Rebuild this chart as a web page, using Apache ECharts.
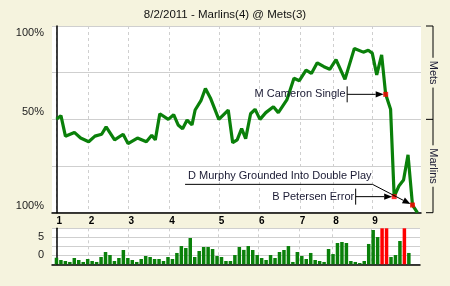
<!DOCTYPE html>
<html><head><meta charset="utf-8">
<script src="https://cdn.jsdelivr.net/npm/echarts@6/dist/echarts.min.js"></script>
<style>html,body{margin:0;padding:0;background:#f5f3de;} #c{width:450px;height:286px;}</style>
</head><body><div id="c"></div>
<script>
// ---- data ----
const titleText = '8/2/2011 - Marlins(4) @ Mets(3)';
const inningLabels = ['1','2','3','4','5','6','7','8','9'];
const inningStarts = [0, 7.2, 16.1, 25.2, 36.3, 45.3, 54.4, 61.9, 70.6];
const playPos = [0,1,2,4,5.4,7.2,8.6,10.1,11.1,13,14.9,16,18.1,20.1,21.3,22.1,23.1,25,26.2,27.2,28.2,29.2,30.3,31,32.3,33.3,34.5,36.3,38.4,39.4,40.4,41.4,42.3,43.4,44.4,45.5,46.8,48.5,49.6,51.5,53.1,54.3,55.8,57,58.3,59.8,61.1,62.5,64.5,66.6,68.6,69.7,70.6,71.6,72.7,73.6,74.7,75.5,76.6,77.6,78.6,79.6,80.7];
const metsWinPct = [50,52,41,43,40,38,41,42,46,39,
  42,37,40,38,41.5,39,53,50,52.5,47,
  45,49.6,47,55,60,66.5,61,50,55,37.5,
  39,45,39.7,53,55.4,50,53.6,56.8,53.6,60.4,
  72,70.7,76.4,74.6,80.3,78.2,76.8,82,71.4,88,
  86,87,85.5,73.8,84.5,63.4,55.4,8.6,14.5,17.5,
  31,4.1,0];
const leverage = [0.73,0.48,0.37,0.26,0.70,0.48,0.26,0.59,0.37,0.26,
  0.81,1.37,1.03,0.37,0.70,1.59,0.70,0.48,0.26,0.59,
  0.92,0.81,0.59,0.59,0.37,0.81,0.59,1.26,2.03,1.81,
  2.92,0.81,1.48,1.92,1.92,1.70,0.92,0.81,0.37,0.37,
  1.03,1.92,1.60,2.03,1.59,1.03,0.70,0.48,1.03,0.70,
  1.37,1.59,2.03,0.26,1.37,0.92,0.59,1.26,0.48,0.37,
  0.26,1.70,1.14,2.37,2.48,2.37,0.37,0.26,0.14,0.37,
  2.26,3.81,3.03,5,5,0.81,1.03,2.59,5,1.26];
const keyBarIdx = [73,74,78];
const keyPointIdx = [55,57,61];
const keyLabels = ['M Cameron Single','B Petersen Error','D Murphy Grounded Into Double Play'];
const yTickValues = [100,50,0];
const yTickLabels = ['100%','50%','100%'];
const barTickValues = [1,3];
const barTickLabels = ['0','5'];
const teamLabels = ['Mets','Marlins'];

// ---- chart ----
const FONT = '"Liberation Sans", Arial, sans-serif';
const BG = '#f5f3de';
const GREEN = '#0a800a';
const chart = echarts.init(document.getElementById('c'), null, {renderer:'canvas', width:450, height:286});
const lineData = playPos.map((p,i)=>[p, metsWinPct[i]]);
const barData = leverage.map((v,i)=>({value:[i,v], itemStyle:{color: keyBarIdx.includes(i)?'#ff0000':GREEN}}));
const xCommon = {type:'value', min:-1, max:81.5,
  axisLine:{lineStyle:{color:'#000', width:1.5}},
  axisTick:{show:false, customValues:inningStarts},
  splitLine:{show:true, lineStyle:{color:'#cfcfcf', type:[3,3]}}};
const option = {
  backgroundColor: BG,
  animation:false,
  title:{text:titleText, left:'center', top:4, textStyle:{fontFamily:FONT, fontSize:11.5, fontWeight:'normal', color:'#111'}},
  grid:[
    {left:52, right:29, top:26, bottom:73.3, show:true, backgroundColor:'#fff', borderWidth:0},
    {left:52, right:30, top:228.3, bottom:21.7, show:true, backgroundColor:'#fff', borderWidth:0}
  ],
  xAxis:[
    Object.assign({gridIndex:0}, xCommon, {axisLabel:{customValues:inningStarts, formatter:(v)=>{const i=inningStarts.indexOf(v);return i>=0?inningLabels[i]:'';}, align:'left', margin:4, fontFamily:FONT, fontSize:10, fontWeight:'bold', color:'#000'}}),
    Object.assign({gridIndex:1}, xCommon, {axisLabel:{show:false}})
  ],
  yAxis:[
    {gridIndex:0, type:'value', min:0, max:100, interval:25,
     axisLine:{show:true, lineStyle:{color:'#000', width:1.5}}, axisTick:{show:false},
     splitLine:{lineStyle:{color:'#cfcfcf'}},
     axisLabel:{margin:8, fontFamily:FONT, fontSize:11, color:'#222',
       formatter:(v)=>{const i=yTickValues.indexOf(v); if(i<0) return ''; const s=v===100?'t':'b'; return '{'+s+'|'+yTickLabels[i]+'}';},
       rich:{t:{padding:[14,0,0,0], fontFamily:FONT, fontSize:11, color:'#222'}, b:{padding:[0,0,14,0], fontFamily:FONT, fontSize:11, color:'#222'}}}},
    {gridIndex:1, type:'value', min:0, max:4, interval:1,
     axisLine:{show:true, lineStyle:{color:'#000', width:1.5}}, axisTick:{show:false},
     splitLine:{lineStyle:{color:'#cfcfcf'}},
     axisLabel:{margin:8, fontFamily:FONT, fontSize:11, color:'#222', showMinLabel:false, showMaxLabel:false,
       formatter:(v)=>{const i=barTickValues.indexOf(v); return i>=0?barTickLabels[i]:'';}}}
  ],
  series:[
    {type:'line', xAxisIndex:0, yAxisIndex:0, data:lineData, showSymbol:false, symbol:'none',
     lineStyle:{color:GREEN, width:3.2}, z:3},
    {type:'scatter', xAxisIndex:0, yAxisIndex:0, data:keyPointIdx.map(i=>lineData[i]), symbol:'rect', symbolSize:5,
     itemStyle:{color:'#ff0000'}, z:5},
    {type:'bar', xAxisIndex:1, yAxisIndex:1, data:barData, barWidth:3.5, clip:true}
  ]
};
chart.setOption(option);

// ---- annotations (anchored to data points via the axes) ----
const g = [];
function arrow(x1,y1,x2,y2){
  const a=Math.atan2(y2-y1,x2-x1), L=8, W=3.2;
  const bx=x2-L*Math.cos(a), by=y2-L*Math.sin(a);
  g.push({type:'line', shape:{x1:x1,y1:y1,x2:bx,y2:by}, style:{stroke:'#000', lineWidth:1}, z:10});
  g.push({type:'polygon', shape:{points:[[x2,y2],[bx+W*Math.sin(a),by-W*Math.cos(a)],[bx-W*Math.sin(a),by+W*Math.cos(a)]]}, style:{fill:'#000'}, z:10});
}
const meas = document.createElement('canvas').getContext('2d');
meas.font = '11px "Liberation Sans"';
const pts = keyPointIdx.map(i=>chart.convertToPixel({gridIndex:0}, lineData[i]));
// Cameron & Petersen: label, tick, horizontal arrow
[0,1].forEach(k=>{
  const p=pts[k]; const tx=p[0]-38.5;
  g.push({type:'text', x:tx-1.5, y:p[1], style:{text:keyLabels[k], font:'11px '+FONT, fill:'#1a1a33', align:'right', verticalAlign:'middle'}, z:10});
  g.push({type:'line', shape:{x1:tx,y1:p[1]-8,x2:tx,y2:p[1]+8}, style:{stroke:'#000', lineWidth:1}, z:10});
  arrow(tx, p[1], p[0]-2, p[1]);
});
// Murphy: underlined label, diagonal arrow
{
  const p=pts[2]; const ex=p[0]-40, ey=p[1]-20.7;
  const w=meas.measureText(keyLabels[2]).width;
  g.push({type:'text', x:ex-1, y:ey-8, style:{text:keyLabels[2], font:'11px '+FONT, fill:'#1a1a33', align:'right', verticalAlign:'middle'}, z:10});
  g.push({type:'line', shape:{x1:ex-w-4,y1:ey,x2:ex,y2:ey}, style:{stroke:'#000', lineWidth:1}, z:10});
  arrow(ex, ey, p[0]-2, p[1]-1);
}
// right-hand team bracket
{
  const yT=chart.convertToPixel({yAxisIndex:0}, 100), yM=chart.convertToPixel({yAxisIndex:0}, 50), yB=chart.convertToPixel({yAxisIndex:0}, 0);
  const bx=433;
  g.push({type:'line', shape:{x1:bx,y1:yT,x2:bx,y2:yB}, style:{stroke:'#000', lineWidth:1}});
  [yT,yM,yB].forEach(y=>g.push({type:'line', shape:{x1:bx-7,y1:y,x2:bx,y2:y}, style:{stroke:'#000', lineWidth:1}}));
  [[teamLabels[0],(yT+yM)/2],[teamLabels[1],(yM+yB)/2]].forEach(([t,y])=>{
    g.push({type:'text', x:bx, y:y, rotation:-Math.PI/2, style:{text:t, font:'11px '+FONT, fill:'#1a1a33', align:'center', verticalAlign:'middle', backgroundColor:BG, padding:[0,3]}, z:2});
  });
}
chart.setOption({graphic:g});
</script></body></html>
